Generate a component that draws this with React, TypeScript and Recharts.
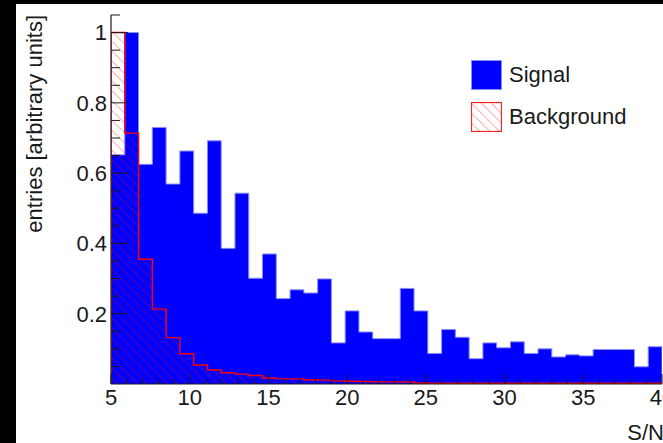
import { ComposedChart, Area, XAxis, YAxis, Legend } from 'recharts';

// S/N histogram, 40 bins from 5 to 40, both normalised to peak = 1
const xLow = 5;
const xHigh = 40;

const signal = [
  0.652, 1.0, 0.625, 0.73, 0.569, 0.663, 0.486, 0.692, 0.386, 0.543,
  0.301, 0.37, 0.243, 0.268, 0.259, 0.299, 0.117, 0.208, 0.148, 0.129,
  0.129, 0.272, 0.208, 0.087, 0.155, 0.133, 0.072, 0.117, 0.103, 0.12,
  0.087, 0.1, 0.077, 0.083, 0.08, 0.098, 0.098, 0.098, 0.049, 0.106,
];

const background = [
  1.0, 0.714, 0.355, 0.213, 0.132, 0.086, 0.054, 0.04, 0.032, 0.028,
  0.024, 0.017, 0.0145, 0.0145, 0.012, 0.011, 0.009, 0.008, 0.007, 0.006,
  0.006, 0.006, 0.003, 0.002, 0.002, 0.002, 0.002, 0.002, 0.002, 0.002,
  0.002, 0.002, 0.002, 0.002, 0.002, 0.002, 0.002, 0.002, 0.002, 0.002,
];

const seriesNames = ['Signal', 'Background'];
const xLabels = [5, 10, 15, 20, 25, 30, 35, 40];
const yLabels = [0.2, 0.4, 0.6, 0.8, 1];
const yMax = 1.05;

const xTicks = Array.from({ length: xHigh - xLow + 1 }, (_, i) => xLow + i);
const yTicks = Array.from({ length: 21 }, (_, i) => Math.round((i + 1) * 5) / 100);

const binWidth = (xHigh - xLow) / signal.length;
const histData = [
  { x: xLow, signal: 0, background: 0 },
  ...signal.map((s, i) => ({ x: xLow + i * binWidth, signal: s, background: background[i] })),
  { x: xHigh, signal: signal[signal.length - 1], background: background[background.length - 1] },
  { x: xHigh, signal: 0, background: 0 },
];

const W = 647;
const H = 439;
const FONT = '"Liberation Sans", Arial, Helvetica, sans-serif';
const TEXT = '#1a1a1a';
const AXIS = '#1a1a1a';
const HATCH_OPACITY = 0.55;

const isYMajor = (v: number) => yLabels.some((l) => Math.abs(l - v) < 1e-6);
const isXMajor = (v: number) => xLabels.includes(v);

function BottomTick({ x, y, payload }: any) {
  const v = payload.value;
  const major = isXMajor(v);
  return (
    <g>
      <line x1={x} y1={y} x2={x} y2={y - (major ? 10 : 5)} stroke={AXIS} strokeWidth={1} />
      {major && (
        <text x={x} y={y + 21} textAnchor="middle" fontFamily={FONT} fontSize={22} fill={TEXT}>
          {v}
        </text>
      )}
    </g>
  );
}

function TopTick({ x, y, payload }: any) {
  const major = isXMajor(payload.value);
  return <line x1={x} y1={y} x2={x} y2={y + (major ? 10 : 5)} stroke={AXIS} strokeWidth={1} />;
}

function LeftTick({ x, y, payload }: any) {
  const v = payload.value;
  const major = isYMajor(v);
  return (
    <g>
      <line x1={x} y1={y} x2={x + (major ? 17 : 9)} y2={y} stroke={AXIS} strokeWidth={1} />
      {major && (
        <text x={x - 4} y={y} dy="0.36em" textAnchor="end" fontFamily={FONT} fontSize={22} fill={TEXT}>
          {String(Math.round(v * 10) / 10)}
        </text>
      )}
    </g>
  );
}

function RightTick({ x, y, payload }: any) {
  const major = isYMajor(payload.value);
  return <line x1={x} y1={y} x2={x - (major ? 19 : 10)} y2={y} stroke={AXIS} strokeWidth={1} />;
}

function HatchPattern({ id }: { id: string }) {
  return (
    <pattern id={id} width={7} height={7} patternUnits="userSpaceOnUse" patternTransform="rotate(45)">
      <line x1={0} y1={0} x2={7} y2={0} stroke="#ff0000" strokeOpacity={HATCH_OPACITY} strokeWidth={1.2} />
    </pattern>
  );
}

function LegendBox({ name }: { name: string }) {
  if (name === 'Background') {
    return (
      <svg width={31} height={30} style={{ display: 'block' }}>
        <defs>
          <HatchPattern id="legendHatch" />
        </defs>
        <rect x={0.5} y={0.5} width={30} height={29} fill="url(#legendHatch)" stroke="#ff2020" strokeWidth={1.2} />
      </svg>
    );
  }
  return (
    <svg width={31} height={30} style={{ display: 'block' }}>
      <rect x={0.5} y={0.5} width={30} height={29} fill="#0000ff" stroke="#8c8cff" strokeWidth={1} />
    </svg>
  );
}

function HistLegend() {
  return (
    <div style={{ fontFamily: FONT, fontSize: 22, color: TEXT }}>
      {seriesNames.map((name) => (
        <div key={name} style={{ display: 'flex', alignItems: 'center', height: 42 }}>
          <LegendBox name={name} />
          <span style={{ marginLeft: 7, lineHeight: '30px' }}>{name}</span>
        </div>
      ))}
    </div>
  );
}

export default function App() {
  return (
    <div style={{ position: 'absolute', left: 0, top: 0, width: 663, height: 443, background: '#000', overflow: 'hidden' }}>
      <div style={{ position: 'absolute', left: 16, top: 4, width: W, height: H, background: '#fff' }}>
        {/* histograms */}
        <div style={{ position: 'absolute', left: 0, top: 0 }}>
          <ComposedChart width={W} height={H} data={histData} margin={{ top: 11, right: 1, bottom: 59, left: 95 }}>
            <defs>
              <HatchPattern id="bgHatch" />
            </defs>
            <XAxis dataKey="x" type="number" domain={[xLow, xHigh]} hide allowDataOverflow />
            <YAxis type="number" domain={[0, yMax]} hide allowDataOverflow />
            <Area
              type="stepAfter"
              dataKey="signal"
              name="Signal"
              stroke="#8c8cff"
              strokeWidth={1}
              fill="#0000ff"
              fillOpacity={1}
              dot={false}
              activeDot={false}
              isAnimationActive={false}
            />
            <Area
              type="stepAfter"
              dataKey="background"
              name="Background"
              stroke="#ff0000"
              strokeWidth={1.4}
              fill="url(#bgHatch)"
              fillOpacity={1}
              dot={false}
              activeDot={false}
              isAnimationActive={false}
            />
          </ComposedChart>
        </div>
        {/* frame, ticks and legend drawn over the histograms */}
        <div style={{ position: 'absolute', left: 0, top: 0 }}>
          <ComposedChart width={W} height={H} data={histData} margin={{ top: 11, right: 1, bottom: 0, left: 0 }}>
            <XAxis
              dataKey="x"
              type="number"
              domain={[xLow, xHigh]}
              ticks={xTicks}
              interval={0}
              height={59}
              tickSize={0}
              tickMargin={0}
              tickLine={false}
              axisLine={{ stroke: AXIS, strokeWidth: 1.2 }}
              tick={<BottomTick />}
              allowDataOverflow
              label={{
                content: () => (
                  <text x={648} y={436} textAnchor="end" fontFamily={FONT} fontSize={22} fill={TEXT}>
                    S/N
                  </text>
                ),
              }}
            />
            <XAxis
              xAxisId="top"
              orientation="top"
              dataKey="x"
              type="number"
              domain={[xLow, xHigh]}
              ticks={xTicks}
              interval={0}
              height={0}
              tickSize={0}
              tickMargin={0}
              tickLine={false}
              axisLine={{ stroke: AXIS, strokeWidth: 1.2 }}
              tick={<TopTick />}
              allowDataOverflow
            />
            <YAxis
              type="number"
              domain={[0, yMax]}
              ticks={yTicks}
              interval={0}
              width={95}
              tickSize={0}
              tickMargin={0}
              tickLine={false}
              axisLine={{ stroke: AXIS, strokeWidth: 1.2 }}
              tick={<LeftTick />}
              allowDataOverflow
              label={{
                content: () => (
                  <text
                    x={26}
                    y={11}
                    transform="rotate(-90, 26, 11)"
                    textAnchor="end"
                    fontFamily={FONT}
                    fontSize={22}
                    fill={TEXT}
                  >
                    entries [arbitrary units]
                  </text>
                ),
              }}
            />
            <YAxis
              yAxisId="right"
              orientation="right"
              type="number"
              domain={[0, yMax]}
              ticks={yTicks}
              interval={0}
              width={0}
              tickSize={0}
              tickMargin={0}
              tickLine={false}
              axisLine={{ stroke: AXIS, strokeWidth: 1.2 }}
              tick={<RightTick />}
              allowDataOverflow
            />
            <Legend
              layout="vertical"
              align="center"
              verticalAlign="middle"
              content={<HistLegend />}
              wrapperStyle={{ left: 455, top: 50, width: 'auto', height: 'auto' }}
            />
          </ComposedChart>
        </div>
      </div>
    </div>
  );
}
